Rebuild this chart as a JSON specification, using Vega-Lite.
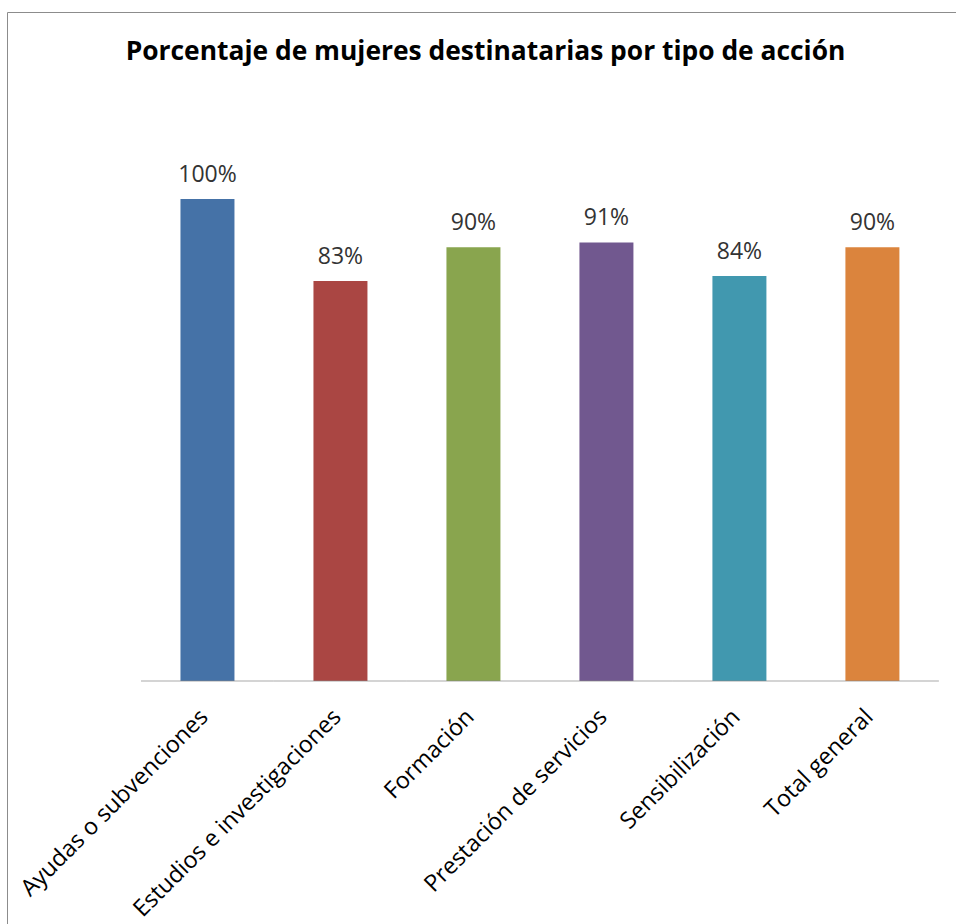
{
"$schema":"https://vega.github.io/schema/vega-lite/v6.json",
"width":949,"height":912,
"autosize":"none",
"padding":{"left":7,"top":12,"right":0,"bottom":0},
"background":"white",
"config":{"view":{"stroke":"#8c8c8c","strokeWidth":1},"font":"Open Sans"},
"title":{"text":"Porcentaje de mujeres destinatarias por tipo de acción","font":"Open Sans","fontSize":26.4,"fontWeight":"bold","color":"#000000","anchor":"middle","frame":"group","baseline":"alphabetic","offset":0,"dy":74,"dx":4},
"data":{"values":[
{"tipo":"Ayudas o subvenciones","pct":1.0},
{"tipo":"Estudios e investigaciones","pct":0.83},
{"tipo":"Formación","pct":0.90},
{"tipo":"Prestación de servicios","pct":0.91},
{"tipo":"Sensibilización","pct":0.84},
{"tipo":"Total general","pct":0.90}
]},
"encoding":{"x":{"field":"tipo","type":"nominal","sort":null,"scale":{"paddingInner":0.594,"paddingOuter":0.865,"align":0.754},"axis":{"title":null,"domain":false,"ticks":false,"labelAngle":-45,"labelAlign":"right","labelBaseline":"middle","labelPadding":32,"labelOffset":-3,"labelFontSize":23.3,"labelColor":"#000000","labelFont":"Open Sans","offset":-243,"labelLimit":0}}},
"layer":[
 {"mark":{"type":"bar"},"encoding":{"y":{"field":"pct","type":"quantitative","scale":{"domain":[-0.50415,1.38797],"nice":false,"zero":false},"axis":null},"color":{"field":"tipo","type":"nominal","sort":null,"scale":{"range":["#4572a7","#aa4643","#89a54e","#71588f","#4198af","#db843d"]},"legend":null}}},
 {"mark":{"type":"text","baseline":"alphabetic","dy":-17,"fontSize":23,"color":"#333333"},"encoding":{"y":{"field":"pct","type":"quantitative"},"text":{"field":"pct","type":"quantitative","format":".0%"}}},
 {"mark":{"type":"tick","orient":"horizontal","size":133,"thickness":1,"color":"#888888"},"encoding":{"y":{"datum":0}}}
]
}
